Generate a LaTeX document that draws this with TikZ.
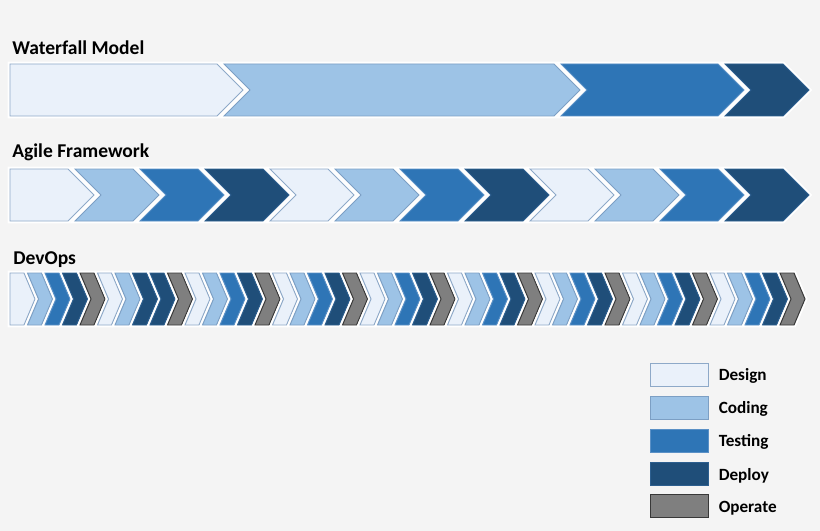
\documentclass[tikz,border=0pt]{standalone}
\usepackage{fontspec}
\setmainfont{Carlito}
\usetikzlibrary{positioning}
\definecolor{bgGray}{HTML}{F4F4F4}
\definecolor{designFill}{HTML}{EAF1FA}
\definecolor{designLine}{HTML}{8EA9C8}
\definecolor{codingFill}{HTML}{9DC3E6}
\definecolor{codingLine}{HTML}{7C9FC4}
\definecolor{testingFill}{HTML}{2E75B6}
\definecolor{testingLine}{HTML}{5A90C6}
\definecolor{deployFill}{HTML}{1F4E79}
\definecolor{deployLine}{HTML}{2D5F8F}
\definecolor{operateFill}{HTML}{7F7F7F}
\definecolor{operateLine}{HTML}{383838}
\begin{document}
\begin{tikzpicture}[x=0.025cm, y=-0.025cm,
    design/.style={fill=designFill, draw=designLine},
    coding/.style={fill=codingFill, draw=codingLine},
    testing/.style={fill=testingFill, draw=testingLine},
    deploy/.style={fill=deployFill, draw=deployLine},
    operate/.style={fill=operateFill, draw=operateLine},
    chevron/.style={preaction={draw=white, line width=3.4pt, line join=miter},
      line width=0.7pt, line join=miter},
    swatch/.style={line width=0.7pt, minimum width=1.45cm, minimum height=0.575cm, inner sep=0pt},
    title/.style={font=\bfseries\fontsize{13.9}{16}\selectfont, anchor=base west, inner sep=0pt},
    key/.style={font=\bfseries\fontsize{12.2}{14}\selectfont, anchor=mid west, inner sep=0pt, yshift=-0.07cm}]
  \fill[bgGray] (0,0) rectangle (820,531);

  % waterfall
  \node[title] (wfTitle) at (12,55) {Waterfall Model};
  \draw[chevron, design] (10,64) -- (217,64) -- (243,90) -- (217,116) -- (10,116) -- cycle;
  \draw[chevron, coding] (224,64) -- (554,64) -- (580,90) -- (554,116) -- (224,116) -- (250,90) -- cycle;
  \draw[chevron, testing] (561,64) -- (718,64) -- (744,90) -- (718,116) -- (561,116) -- (587,90) -- cycle;
  \draw[chevron, deploy] (725,64) -- (783,64) -- (809,90) -- (783,116) -- (725,116) -- (751,90) -- cycle;

  % agile
  \node[title] (agTitle) at (12,158) {Agile Framework};
  \draw[chevron, design] (10,169) -- ++(58,0) -- ++(26,26) -- ++(-26,26) -- ++(-58,0) -- cycle;
  \foreach \p [count=\i] in {coding,testing,deploy,design,coding,testing,deploy,design,coding,testing,deploy} {
    \pgfmathsetmacro\x{10+65*\i}
    \draw[chevron, \p] (\x,169) -- ++(58,0) -- ++(26,26) -- ++(-26,26) -- ++(-58,0) -- ++(26,-26) -- cycle;
  }

  % devops
  \node[title] (dvTitle) at (13,264) {DevOps};
  \draw[chevron, design] (10,273) -- ++(14,0) -- ++(11,26) -- ++(-11,26) -- ++(-14,0) -- cycle;
  \foreach \p [count=\i] in {coding,testing,deploy,operate,
      design,coding,deploy,deploy,operate,
      design,coding,testing,deploy,operate,
      design,coding,testing,deploy,operate,
      design,coding,testing,deploy,operate,
      design,coding,testing,deploy,operate,
      design,coding,testing,deploy,operate,
      design,coding,testing,deploy,operate,
      design,coding,testing,deploy,operate} {
    \pgfmathsetmacro\x{10+17.5*\i}
    \draw[chevron, \p] (\x,273) -- ++(14,0) -- ++(11,26) -- ++(-11,26) -- ++(-14,0) -- ++(11,-26) -- cycle;
  }

  % legend
  \node[swatch, design, draw] (keyDesign) at (679,374.5) {};
  \node[swatch, coding, draw] (keyCoding) at (679,407.5) {};
  \node[swatch, testing, draw] (keyTesting) at (679,440.5) {};
  \node[swatch, deploy, draw] (keyDeploy) at (679,474) {};
  \node[swatch, operate, draw] (keyOperate) at (679,506) {};
  \node[right=0.25cm of keyDesign, key] (lblDesign) {Design};
  \node[right=0.25cm of keyCoding, key] (lblCoding) {Coding};
  \node[right=0.25cm of keyTesting, key] (lblTesting) {Testing};
  \node[right=0.25cm of keyDeploy, key] (lblDeploy) {Deploy};
  \node[right=0.25cm of keyOperate, key] (lblOperate) {Operate};
\end{tikzpicture}
\end{document}
